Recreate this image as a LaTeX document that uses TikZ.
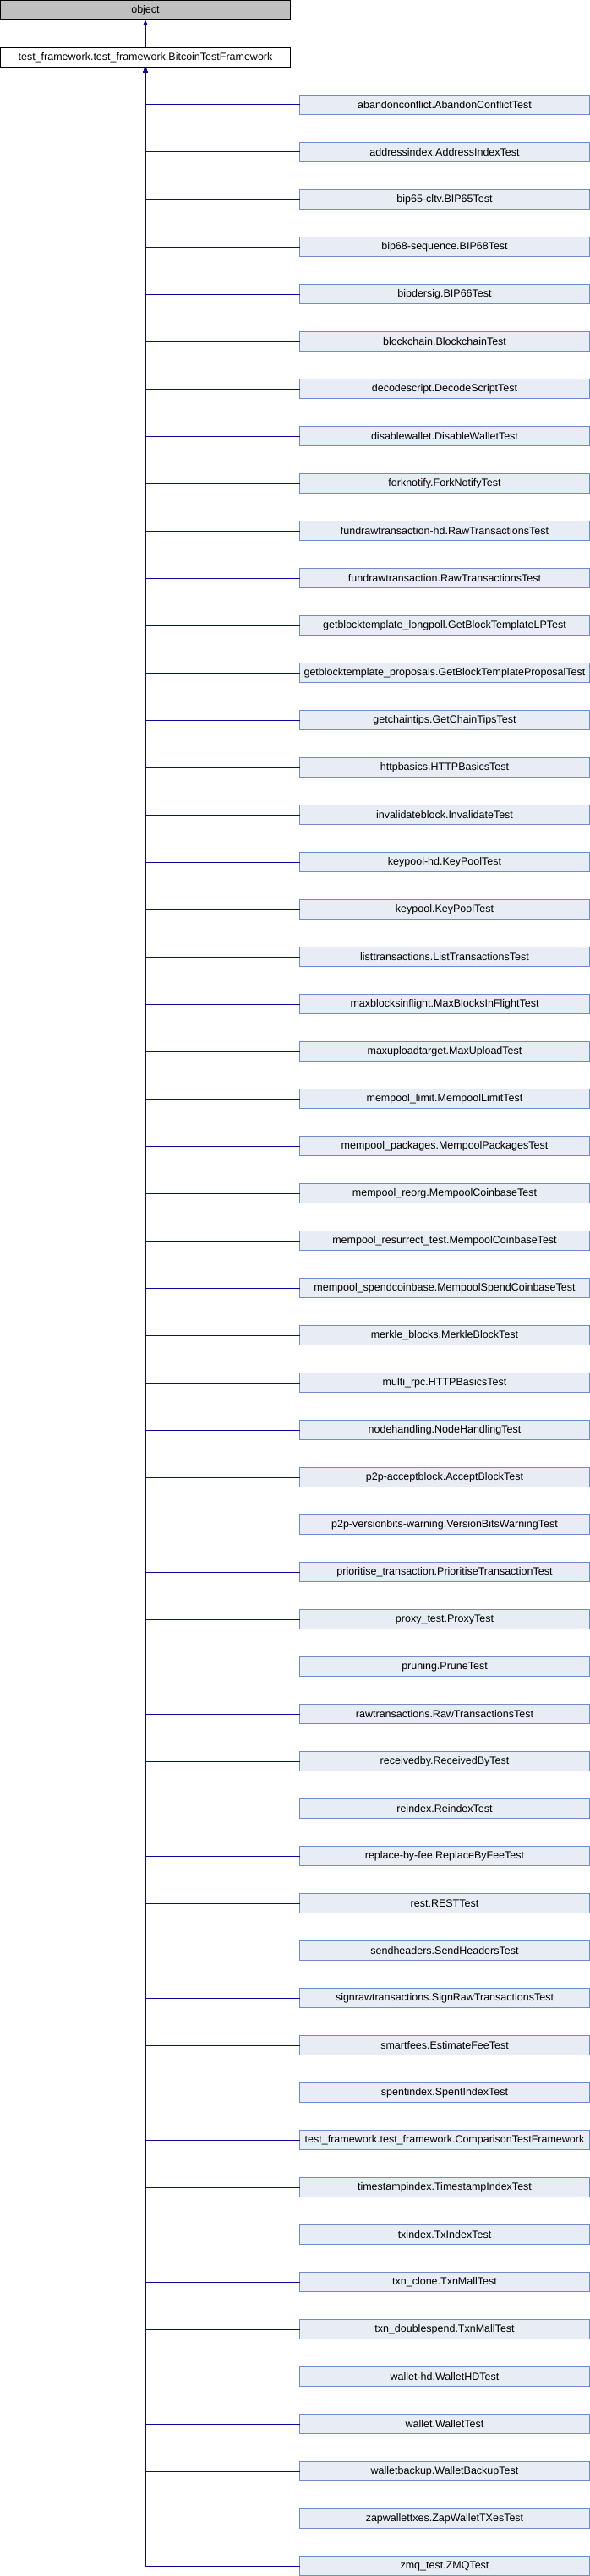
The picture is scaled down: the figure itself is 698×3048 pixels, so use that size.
\documentclass[tikz,border=0pt]{standalone}
\usepackage{fontspec}
\setmainfont{Liberation Sans}
\usetikzlibrary{arrows.meta}
\definecolor{edgeblue}{RGB}{10,10,160}
\definecolor{childfill}{RGB}{232,236,245}
\definecolor{childdraw}{RGB}{112,140,200}
\definecolor{rootfill}{RGB}{191,191,191}
\tikzset{
  box/.style={minimum width=343pt, minimum height=23pt, inner sep=0pt, outer sep=0pt,
              line width=1pt, font=\fontsize{12.5}{14}\selectfont},
  rootbox/.style={box, draw=black, fill=rootfill},
  basebox/.style={box, draw=black, fill=white},
  childbox/.style={box, draw=childdraw, fill=childfill},
  edge/.style={draw=edgeblue, line width=1pt, -{Triangle[width=5pt,length=6pt]}},
}
\begin{document}
\begin{tikzpicture}[x=1pt,y=-1pt]
\useasboundingbox (0,0) rectangle (698,3048);
\node[rootbox] (obj) at (172,12) {object};
\node[basebox] (tf) at (172,68) {test\_framework.test\_framework.BitcoinTestFramework};
\draw[edge] (tf.north) -- (obj.south);
\foreach \lbl [count=\i from 0] in {
abandonconflict.AbandonConflictTest,
addressindex.AddressIndexTest,
bip65-cltv.BIP65Test,
bip68-sequence.BIP68Test,
bipdersig.BIP66Test,
blockchain.BlockchainTest,
decodescript.DecodeScriptTest,
disablewallet.DisableWalletTest,
forknotify.ForkNotifyTest,
fundrawtransaction-hd.RawTransactionsTest,
fundrawtransaction.RawTransactionsTest,
getblocktemplate\_longpoll.GetBlockTemplateLPTest,
getblocktemplate\_proposals.GetBlockTemplateProposalTest,
getchaintips.GetChainTipsTest,
httpbasics.HTTPBasicsTest,
invalidateblock.InvalidateTest,
keypool-hd.KeyPoolTest,
keypool.KeyPoolTest,
listtransactions.ListTransactionsTest,
maxblocksinflight.MaxBlocksInFlightTest,
maxuploadtarget.MaxUploadTest,
mempool\_limit.MempoolLimitTest,
mempool\_packages.MempoolPackagesTest,
mempool\_reorg.MempoolCoinbaseTest,
mempool\_resurrect\_test.MempoolCoinbaseTest,
mempool\_spendcoinbase.MempoolSpendCoinbaseTest,
merkle\_blocks.MerkleBlockTest,
multi\_rpc.HTTPBasicsTest,
nodehandling.NodeHandlingTest,
p2p-acceptblock.AcceptBlockTest,
p2p-versionbits-warning.VersionBitsWarningTest,
prioritise\_transaction.PrioritiseTransactionTest,
proxy\_test.ProxyTest,
pruning.PruneTest,
rawtransactions.RawTransactionsTest,
receivedby.ReceivedByTest,
reindex.ReindexTest,
replace-by-fee.ReplaceByFeeTest,
rest.RESTTest,
sendheaders.SendHeadersTest,
signrawtransactions.SignRawTransactionsTest,
smartfees.EstimateFeeTest,
spentindex.SpentIndexTest,
test\_framework.test\_framework.ComparisonTestFramework,
timestampindex.TimestampIndexTest,
txindex.TxIndexTest,
txn\_clone.TxnMallTest,
txn\_doublespend.TxnMallTest,
wallet-hd.WalletHDTest,
wallet.WalletTest,
walletbackup.WalletBackupTest,
zapwallettxes.ZapWalletTXesTest,
zmq\_test.ZMQTest}{
  \node[childbox] (c\i) at (526,124+56*\i) {\lbl};
  \draw[edge] (c\i.west) -| (tf.south);
}
\end{tikzpicture}
\end{document}
